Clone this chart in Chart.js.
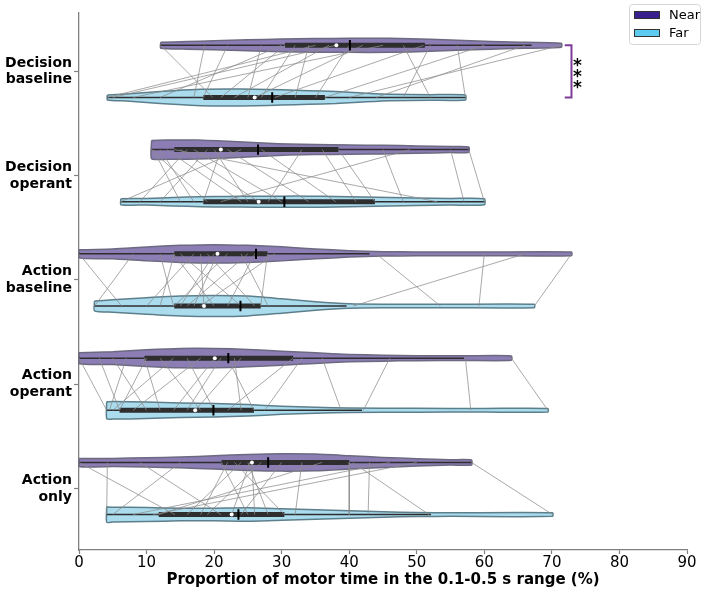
<!DOCTYPE html>
<html>
<head>
<meta charset="utf-8">
<script src="https://cdn.jsdelivr.net/npm/chart.js@4.4.1/dist/chart.umd.min.js"></script>
<style>
  html, body { margin: 0; padding: 0; background: #fff; }
  #wrap { width: 709px; height: 590px; }
</style>
</head>
<body>
<div id="wrap"><canvas id="chart" width="709" height="590"></canvas></div>
<script>
// Conditions, top to bottom
const categories = ['Decision baseline', 'Decision operant', 'Action baseline', 'Action operant', 'Action only'];
const xTicks = [0, 10, 20, 30, 40, 50, 60, 70, 80, 90];

// inner box: [lower whisker, q1, median, q3, upper whisker]
const nearBox = [
    [12.1, 30.5, 38.1, 51.2, 67.0],
    [10.75, 14.1, 21.0, 38.4, 57.7],
    [0, 14.1, 20.5, 27.9, 43.0],
    [0, 9.7, 20.1, 31.7, 57.0],
    [0, 21.1, 25.6, 40.0, 58.1]
];
const farBox = [
    [4.2, 18.4, 26.0, 36.4, 57.2],
    [6.2, 18.4, 26.6, 43.8, 60.0],
    [2.3, 14.1, 18.5, 26.9, 39.6],
    [4.1, 6.0, 17.2, 25.9, 41.9],
    [4.1, 11.8, 22.6, 30.4, 52.1]
];
const nearMean = [40.1, 26.5, 26.2, 22.1, 28.0];
const farMean = [28.6, 30.4, 23.9, 19.9, 23.6];

// violin outlines: [value, half width of density]
const nearViolin = [
    [[12.1, 3], [16, 3.8], [20, 4.5], [25, 5.5], [30, 6.3], [35, 6.8], [40, 7], [46, 7], [52, 6], [58, 4.5], [64, 3.2], [71.4, 2]],
    [[10.75, 9.2], [13, 9.6], [16, 9.7], [19, 9.2], [22, 8.3], [25, 7.3], [28, 6.3], [31, 5.5], [35, 5], [40, 4.6], [45, 4.3], [50, 3.7], [55, 3], [57.7, 2.6]],
    [[0, 4], [5, 4.9], [10, 6.9], [15, 8.5], [20, 9.2], [25, 8.5], [30, 7], [35, 4.9], [40, 3.2], [45, 2.2], [50, 1.9], [60, 1.8], [72.9, 1.8]],
    [[0, 5.3], [5, 6.3], [10, 8.3], [15, 9.7], [20, 9.7], [25, 8.7], [30, 7], [35, 5.3], [40, 3.7], [45, 3], [50, 2.5], [57, 2.3], [64, 2.2]],
    [[0, 4], [5, 4], [10, 4.7], [15, 5.3], [20, 6.7], [25, 8], [30, 8.7], [35, 8.3], [40, 6.7], [45, 5], [50, 3.7], [55, 2.7], [58.1, 2.5]]
];
const farViolin = [
    [[4.2, 2.5], [7, 3.5], [10, 5], [14, 6.8], [18, 8.2], [22, 8.5], [26, 8.3], [30, 7.6], [34, 6.8], [38, 6], [42, 4.5], [46, 3.2], [52, 2.8], [57.2, 2.5]],
    [[6.2, 3], [10, 3.3], [14, 4.2], [18, 5], [22, 5.3], [26, 5.4], [30, 5.6], [34, 5.6], [38, 5.2], [42, 4.7], [46, 4.2], [50, 3.8], [55, 3.3], [60, 3]],
    [[2.3, 4.9], [5, 6.2], [10, 8.2], [15, 9.9], [20, 10.5], [25, 9.9], [30, 7.2], [35, 4.2], [40, 2.2], [45, 1.8], [55, 1.7], [67.4, 1.7]],
    [[4.1, 8.5], [5, 8.8], [10, 8.3], [15, 7.3], [20, 6.7], [25, 5.7], [30, 4], [35, 3], [40, 2.2], [50, 1.9], [60, 1.8], [69.4, 1.8]],
    [[4.1, 7.7], [5, 7.4], [10, 7], [15, 6.3], [20, 6.3], [25, 6.7], [30, 5.7], [35, 4.7], [40, 3.7], [45, 2.7], [50, 2], [55, 1.8], [70.1, 1.8]]
];

// per subject [near, far]
const pairs = [
    [[71.4, 40], [66, 44], [60, 36.4], [56, 57.2], [52, 48], [51, 29], [48, 52], [45, 8], [42, 26], [40, 35], [38, 5],
     [37, 23], [35, 4.2], [34, 32], [32, 27], [30.5, 21], [30, 12], [27, 25], [22, 18.4], [18.6, 17], [12.1, 19.8]],
    [[57.7, 60], [55, 57], [49, 21], [45, 48], [38.4, 43.8], [36, 41], [33, 28], [27, 38], [24, 6.2], [22, 34], [21, 18.4],
     [20, 25], [19, 12], [17, 30], [16, 9], [15, 26.6], [14.1, 53], [13, 24], [12, 17], [11, 15], [10.75, 19]],
    [[72.9, 67.4], [60, 59.2], [44, 53.5], [66, 40.6], [0, 6.3], [8, 2.3], [12, 14], [14, 20], [14.1, 12], [15, 24], [17, 10],
     [18, 18.5], [19, 26], [20, 15], [20.5, 17], [22, 14.1], [24, 28], [25, 16], [26, 22], [27.9, 26.9], [29, 18]],
    [[64, 69.4], [57.2, 58], [46, 42.1], [36, 38.8], [33, 27.5], [31.7, 22], [0, 4.1], [3, 6], [5, 10], [7, 4.5], [9.7, 12],
     [10, 6], [12, 18], [14, 5], [16, 20], [18, 8], [20.1, 14], [21, 16], [22, 25.9], [23, 24], [24, 17.2]],
    [[58.1, 70.1], [43, 42.8], [40, 40], [40.5, 51.8], [0, 14.2], [4.2, 4.1], [9, 21], [15, 5], [21.1, 25], [22, 18], [23, 30.4],
     [24, 16], [25, 28], [25.3, 22.6], [25.6, 26], [27, 19], [30, 24], [33, 32], [36, 11.8], [46, 8], [50, 11]]
];

// significance: row index, bracket x, label
const sigRows = [0];
const sigX = 72.9;
const sigLabel = '***';

const NEAR_OFF = -0.25;
const FAR_OFF = 0.25;
const DENS = 0.0096;

const colors = {
    nearFill: '#8c7db5',
    nearEdge: '#6b6a80',
    farFill: '#aadcee',
    farEdge: '#5d7f8b',
    nearKey: '#3a1f8f',
    farKey: '#5ccbef',
    box: '#2e2e2e',
    pair: 'rgba(140,140,140,0.75)',
    sig: '#7d3c98',
    axis: '#808080'
};

function violinPoints(profile, c) {
    const top = profile.map(([v, w]) => ({ x: v, y: c - w * DENS }));
    const bottom = profile.map(([v, w]) => ({ x: v, y: c + w * DENS })).reverse();
    return [...top, ...bottom, top[0]];
}

const datasets = [];

function addGroup(c, box, mean, profile, fill, edge) {
    datasets.push({
        data: violinPoints(profile, c), fill: 'shape', backgroundColor: fill,
        borderColor: edge, borderWidth: 1.5, pointRadius: 0, tension: 0.2, order: 60
    });
    datasets.push({
        data: [{ x: box[0], y: c }, { x: box[4], y: c }],
        borderColor: colors.box, borderWidth: 1.5, pointRadius: 0, order: 50
    });
    datasets.push({
        data: [{ x: box[1], y: c }, { x: box[3], y: c }],
        borderColor: colors.box, borderWidth: 5, borderCapStyle: 'butt', pointRadius: 0, order: 40
    });
    datasets.push({
        data: [{ x: mean, y: c - 0.05 }, { x: mean, y: c + 0.05 }],
        borderColor: '#000', borderWidth: 2, borderCapStyle: 'butt', pointRadius: 0, order: 20
    });
    datasets.push({
        data: [{ x: box[2], y: c }], showLine: false,
        pointRadius: 2, pointBackgroundColor: '#fff', pointBorderWidth: 0, order: 10
    });
}

categories.forEach((name, i) => {
    addGroup(i + NEAR_OFF, nearBox[i], nearMean[i], nearViolin[i], colors.nearFill, colors.nearEdge);
    addGroup(i + FAR_OFF, farBox[i], farMean[i], farViolin[i], colors.farFill, colors.farEdge);
    pairs[i].forEach(([n, f]) => {
        datasets.push({
            data: [{ x: n, y: i + NEAR_OFF }, { x: f, y: i + FAR_OFF }],
            borderColor: colors.pair, borderWidth: 1, pointRadius: 0, order: 30
        });
    });
});

sigRows.forEach(r => {
    datasets.push({
        data: [
            { x: sigX - 1, y: r + NEAR_OFF }, { x: sigX, y: r + NEAR_OFF },
            { x: sigX, y: r + FAR_OFF }, { x: sigX - 1, y: r + FAR_OFF }
        ],
        borderColor: colors.sig, borderWidth: 2, pointRadius: 0, order: 5
    });
});

// stars and legend box
const extrasPlugin = {
    id: 'extras',
    afterDraw(chart) {
        const ctx = chart.ctx;
        const xs = chart.scales.x, ys = chart.scales.y;
        ctx.save();
        ctx.fillStyle = '#000';
        ctx.font = 'bold 17px "DejaVu Sans"';
        ctx.textAlign = 'center';
        ctx.textBaseline = 'alphabetic';
        sigRows.forEach(r => {
            const px = xs.getPixelForValue(sigX) + 6;
            const py = ys.getPixelForValue(r);
            [...sigLabel].forEach((s, k) => {
                ctx.fillText(s, px, py + (k - 1) * 11 + 11);
            });
        });

        // legend
        const lx = chart.width - 80, ly = 4;
        ctx.fillStyle = 'rgba(255,255,255,0.85)';
        ctx.strokeStyle = '#d6d6d6';
        ctx.lineWidth = 1;
        ctx.beginPath();
        ctx.roundRect(lx + 0.5, ly + 0.5, 71, 40, 3);
        ctx.fill();
        ctx.stroke();
        const items = [['Near', colors.nearKey], ['Far', colors.farKey]];
        ctx.font = '13px "DejaVu Sans"';
        ctx.textAlign = 'left';
        ctx.textBaseline = 'middle';
        items.forEach(([label, col], k) => {
            const y = ly + 7 + k * 18;
            ctx.fillStyle = col;
            ctx.fillRect(lx + 5, y, 26, 8);
            ctx.strokeStyle = '#333';
            ctx.strokeRect(lx + 5.5, y + 0.5, 25, 7);
            ctx.fillStyle = '#000';
            ctx.fillText(label, lx + 40, y + 4.5);
        });
        ctx.restore();
    }
};

Chart.defaults.font.family = '"DejaVu Sans", sans-serif';

new Chart(document.getElementById('chart'), {
    type: 'line',
    data: { datasets },
    options: {
        responsive: false,
        animation: false,
        devicePixelRatio: 1,
        clip: false,
        layout: { autoPadding: false, padding: { top: 13, right: 22, left: 0, bottom: 0 } },
        plugins: { legend: { display: false }, tooltip: { enabled: false } },
        scales: {
            x: {
                type: 'linear', min: 0, max: 90,
                afterBuildTicks: s => { s.ticks = xTicks.map(v => ({ value: v })); },
                ticks: { font: { size: 15 }, color: '#000', padding: 0, maxRotation: 0, autoSkip: false },
                grid: { drawOnChartArea: false, tickLength: 4, tickColor: colors.axis, tickWidth: 1.2 },
                border: { color: colors.axis, width: 1.3 },
                title: {
                    display: true, text: 'Proportion of motor time in the 0.1-0.5 s range (%)',
                    font: { size: 15, weight: 'bold' }, color: '#000', padding: { top: 0, bottom: 1 }
                },
                afterFit: s => { s.height = 40; }
            },
            y: {
                type: 'linear', reverse: true, min: -0.56, max: 4.59,
                afterBuildTicks: s => { s.ticks = categories.map((_, i) => ({ value: i })); },
                ticks: {
                    callback: (v, idx) => categories[idx].split(' '),
                    font: { size: 14, weight: 'bold', lineHeight: 1.2 }, color: '#000', padding: 2
                },
                grid: { drawOnChartArea: false, tickLength: 5, tickColor: colors.axis, tickWidth: 1.2 },
                border: { color: colors.axis, width: 1.3 },
                afterFit: s => { s.width = 79; s.paddingTop = 0; s.paddingBottom = 0; }
            }
        }
    },
    plugins: [extrasPlugin]
});
</script>
</body>
</html>
